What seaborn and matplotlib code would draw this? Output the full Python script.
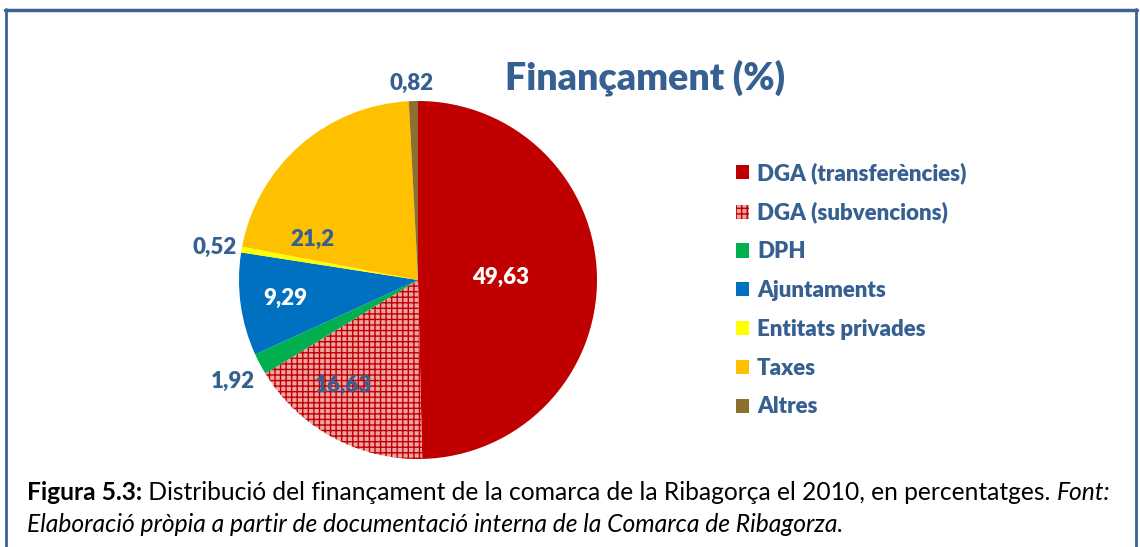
"""
Finançament (%) de la comarca de la Ribagorça, 2010 -- gràfic de sectors
"""

import matplotlib
matplotlib.use("Agg")
import matplotlib.pyplot as plt
from matplotlib.lines import Line2D
import numpy as np
import seaborn as sns

sns.set_theme(style="white")
plt.rcParams["font.family"] = ["Lato", "DejaVu Sans"]
plt.rcParams["hatch.linewidth"] = 1.0

# ── dades ─────────────────────────────────────
categories = ["DGA (transferències)", "DGA (subvencions)", "DPH", "Ajuntaments",
              "Entitats privades", "Taxes", "Altres"]
values = [49.63, 16.63, 1.92, 9.29, 0.52, 21.2, 0.82]
value_labels = ["49,63", "16,63", "1,92", "9,29", "0,52", "21,2", "0,82"]
colors = ["#C00000", "#EFA2A2", "#00B050", "#0070C0", "#FFFF00", "#FFC000", "#8C7030"]
hatches = [None, "+++", None, None, None, None, None]

TXT = "#376092"
# posició de les etiquetes (angle en graus, radi relatiu) i color
label_pos = [(2, 0.46), (-125.5, 0.72), (208.7, 1.18), (187.7, 0.75),
             (171, 1.15), (158.7, 0.63), (92, 1.10)]
label_col = ["white", TXT, TXT, "white", TXT, TXT, TXT]

W, H = 1140, 547
fig = plt.figure(figsize=(W / 100, H / 100), dpi=100)
fig.patch.set_facecolor("white")

# marc
frame_col = "#3C6294"
fig.add_artist(Line2D([6 / W, 6 / W], [0, 1 - 9 / H], color=frame_col, lw=2))
fig.add_artist(Line2D([1136 / W, 1136 / W], [0, 1 - 9 / H], color=frame_col, lw=2))
fig.add_artist(Line2D([5 / W, 1137 / W], [1 - 9.5 / H, 1 - 9.5 / H], color=frame_col, lw=2.5))

# pastís
cx, cy, r = 418, 280, 179
ax = fig.add_axes([(cx - r) / W, (H - cy - r) / H, 2 * r / W, 2 * r / H])
wedges, _ = ax.pie(values, colors=colors, startangle=90, counterclock=False,
                   radius=1, wedgeprops=dict(linewidth=0))
for w, h in zip(wedges, hatches):
    if h:
        w.set_hatch(h)
        w.set_edgecolor("#C00000")
        w.set_linewidth(0)
ax.set_xlim(-1, 1)
ax.set_ylim(-1, 1)
ax.set_aspect("equal")
ax.axis("off")

for lab, (ang, rr), col in zip(value_labels, label_pos, label_col):
    a = np.deg2rad(ang)
    ax.text(rr * np.cos(a), rr * np.sin(a), lab, ha="center", va="center",
            fontsize=16, fontweight="heavy", color=col, clip_on=False)

# títol
fig.text(645 / W, 1 - 78 / H, "Finançament (%)", ha="center", va="center",
         fontsize=27, fontweight="heavy", color=TXT)

# llegenda
leg = fig.legend(wedges, categories, loc="upper left",
                 bbox_to_anchor=(736 / W, 1 - 162 / H), frameon=False,
                 prop=dict(size=16, weight="heavy"), labelcolor=TXT,
                 handlelength=0.6, handleheight=0.6, handletextpad=0.35,
                 labelspacing=0.8, borderpad=0, borderaxespad=0)

# peu de figura
fig.canvas.draw()
rend = fig.canvas.get_renderer()


def run(parts, x0, y, size):
    x = x0
    arts = []
    for s, kw in parts:
        t = fig.text(x / W, 1 - y / H, s, fontsize=size, color="black", va="center", **kw)
        bb = t.get_window_extent(rend)
        x += bb.width
        arts.append(t)
    return x, arts


line1 = [("Figura 5.3:", dict(fontweight="bold")),
         (" Distribució del finançament de la comarca de la Ribagorça el 2010, en percentatges. ", {}),
         ("Font:", dict(style="italic"))]
line2 = [("Elaboració pròpia a partir de documentació interna de la Comarca de Ribagorza.",
          dict(style="italic"))]

size = 14.5
end, arts = run(line1, 27, 493, size)
size = size * (1113 - 27) / (end - 27)
for a in arts:
    a.remove()
run(line1, 27, 493, size)
run(line2, 27, 525, size)

fig.savefig("out.png", dpi=100)
